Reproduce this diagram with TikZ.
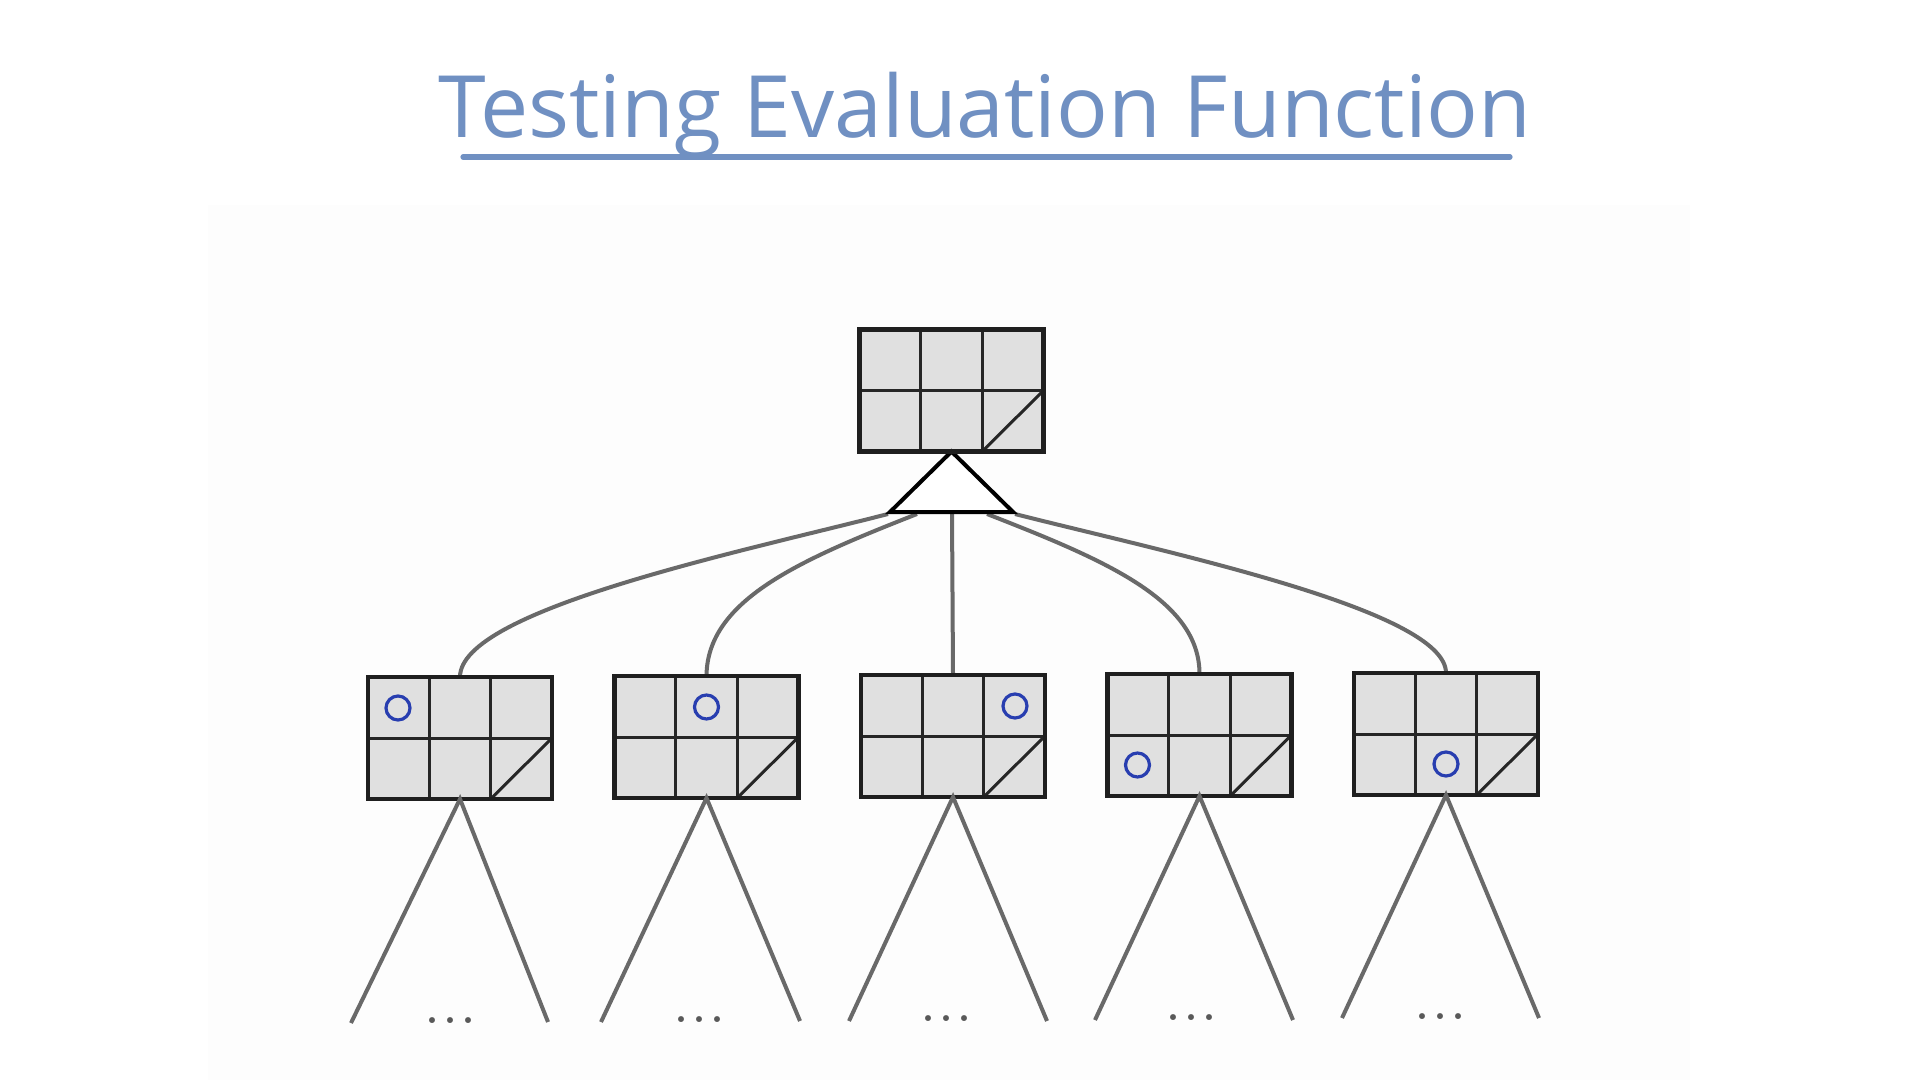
\documentclass[tikz,border=0pt]{standalone}
\usepackage{fontspec}
\newfontfamily\titlefont{Open Sans}
\usetikzlibrary{calc}
\definecolor{titleblue}{RGB}{112,144,194}
\definecolor{boardfill}{RGB}{224,224,224}
\definecolor{edgegray}{RGB}{105,105,105}
\definecolor{markblue}{RGB}{40,62,176}
\definecolor{panel}{RGB}{253,253,253}
\newcommand\boardgrid[1]{%
  \draw[gridline] ($(#1.north west)!1/3!(#1.north east)$) -- ($(#1.south west)!1/3!(#1.south east)$);
  \draw[gridline] ($(#1.north west)!2/3!(#1.north east)$) -- ($(#1.south west)!2/3!(#1.south east)$);
  \draw[gridline] (#1.west) -- (#1.east);
  \draw[gridline] ($(#1.south west)!2/3!(#1.south east)$) -- (#1.east);
  \draw[boardborder] (#1.south west) rectangle (#1.north east);
}
\begin{document}
\begin{tikzpicture}[x=0.5pt,y=-0.5pt,
  board/.style={draw=black!88, line width=2.4pt, fill=boardfill, minimum width=92pt, minimum height=61pt, inner sep=0pt, outer sep=0pt},
  boardborder/.style={draw=black!88, line width=2.4pt},
  gridline/.style={draw=black!85, line width=1.5pt},
  edge/.style={draw=edgegray, line width=2pt},
  omark/.style={circle, draw=markblue, line width=1.6pt, minimum size=12pt, inner sep=0pt},
  dots/.style={text=black!65, font=\fontsize{36}{36}\selectfont, anchor=base, inner sep=0pt},
  titlestyle/.style={text=titleblue, font=\titlefont\fontsize{43}{43}\selectfont, anchor=base, inner sep=0pt},
]
\useasboundingbox (0,0) rectangle (1920,1080);
\fill[white] (0,0) rectangle (1920,1080);
\fill[panel] (208,205) rectangle (1690,1080);

% title
\node[titlestyle] (title) at (985,138) {Testing Evaluation Function};
\coordinate (ul1) at (463,157);
\coordinate (ul2) at (1510,157);
\draw[titleblue, line width=2.6pt, line cap=round] (ul1) -- (ul2);

% boards
\node[board] (top) at (951.5,390.5) {};
\node[board] (b1) at (460,738) {};
\node[board] (b2) at (706.5,737) {};
\node[board] (b3) at (953,736) {};
\node[board] (b4) at (1199.5,735) {};
\node[board] (b5) at (1446,734) {};

% triangle base points and connector starts
\coordinate (tl) at (890,512);
\coordinate (tr) at (1013,512);
\coordinate (s1) at (888,514);
\coordinate (s2) at (917,514);
\coordinate (s3) at (952,514);
\coordinate (s4) at (987,514);
\coordinate (s5) at (1015,514);

\draw[edge] (s1) .. controls (740,552) and (460,610) .. (b1.north);
\draw[edge] (s2) .. controls (800,560) and (707,600) .. (b2.north);
\draw[edge] (s3) -- (b3.north);
\draw[edge] (s4) .. controls (1105,560) and (1199.5,600) .. (b4.north);
\draw[edge] (s5) .. controls (1164,552) and (1446,610) .. (b5.north);

\draw[line width=2pt, fill=white, line join=miter] (top.south) -- (tl) -- (tr) -- cycle;

% grids
\boardgrid{top}
\boardgrid{b1}
\boardgrid{b2}
\boardgrid{b3}
\boardgrid{b4}
\boardgrid{b5}

% marks
\node[omark] (m1) at ($(b1.center)+(-62,-30)$) {};
\node[omark] (m2) at ($(b2.center)+(0,-30)$) {};
\node[omark] (m3) at ($(b3.center)+(62,-30)$) {};
\node[omark] (m4) at ($(b4.center)+(-62,30)$) {};
\node[omark] (m5) at ($(b5.center)+(0,30)$) {};

% subtrees
\coordinate (l1) at (351,1023); \coordinate (r1) at (548,1022);
\coordinate (l2) at (601,1022); \coordinate (r2) at (800,1021);
\coordinate (l3) at (849,1021); \coordinate (r3) at (1047,1021);
\coordinate (l4) at (1095,1020); \coordinate (r4) at (1293,1020);
\coordinate (l5) at (1342,1018); \coordinate (r5) at (1539,1018);
\foreach \i in {1,...,5}{
  \draw[edge] (l\i) -- (b\i.south) -- (r\i);
}
\node[dots] (d1) at (450,1023) {...};
\node[dots] (d2) at (699,1022) {...};
\node[dots] (d3) at (946,1021) {...};
\node[dots] (d4) at (1191,1020) {...};
\node[dots] (d5) at (1440,1019) {...};
\end{tikzpicture}
\end{document}
